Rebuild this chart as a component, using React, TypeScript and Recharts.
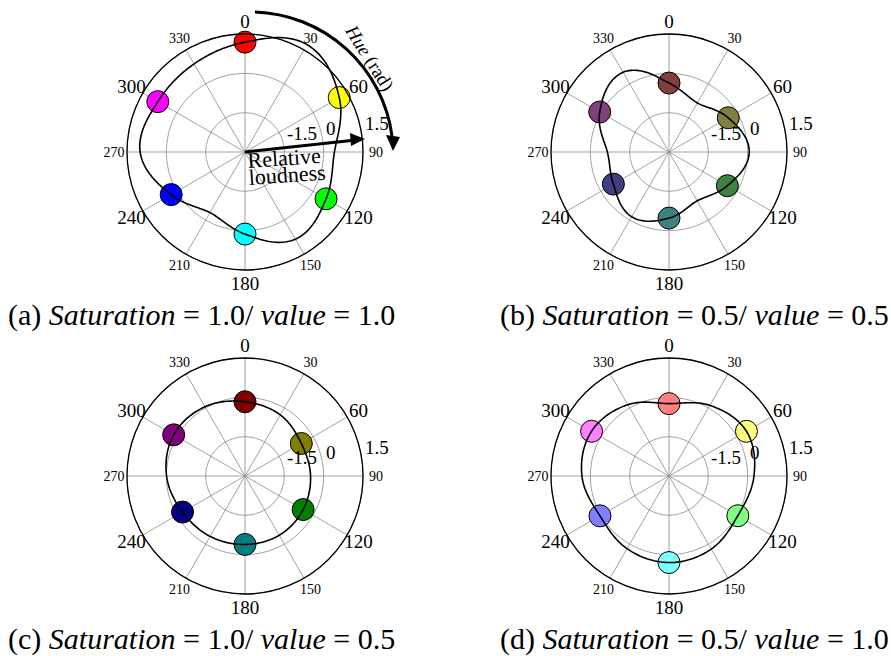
import React from 'react'
import { RadarChart, Radar, PolarGrid, PolarAngleAxis, PolarRadiusAxis } from 'recharts'

const hues = [0, 30, 60, 90, 120, 150, 180, 210, 240, 270, 300, 330]
const markerHues = [0, 60, 120, 180, 240, 300]
const radiusTicks = [-1.5, 0, 1.5]

// relative loudness read every 30 deg, markers at the six primary hues
const curveA = [1.19, 1.73, 1.15, 0.41, 0.57, 0.84, 0.13, -0.33, 0.25, 1.0, 0.84, 0.88]
const markerA = [1.19, 1.15, 0.57, 0.13, 0.25, 0.84]
const colorsA = ['#ff0000', '#ffff00', '#00ff00', '#00ffff', '#0000ff', '#ff00ff']

const curveB = [-0.37, -0.84, -0.39, 0.06, -0.43, -0.85, -0.48, -0.15, -0.55, -0.65, 0.05, 0.51]
const markerB = [-0.37, -0.39, -0.43, -0.48, -0.55, 0.05]
const colorsB = ['#804040', '#808040', '#408040', '#408080', '#404080', '#804080']

const curveC = [-0.17, -0.31, -0.52, -0.5, -0.44, -0.39, -0.39, -0.34, -0.25, -0.01, 0.14, 0.05]
const markerC = [-0.17, -0.52, -0.44, -0.39, -0.25, 0.14]
const colorsC = ['#800000', '#808000', '#008000', '#008080', '#000080', '#800080']

const curveD = [-0.24, 0.11, 0.41, 0.24, 0.03, 0.22, 0.3, 0.2, 0.04, 0.32, 0.41, 0.14]
const markerD = [-0.24, 0.41, 0.03, 0.3, 0.04, 0.41]
const colorsD = ['#ff8080', '#ffff80', '#80ff80', '#80ffff', '#8080ff', '#ff80ff']

const captionTags = ['(a)', '(b)', '(c)', '(d)']
const saturations = ['1.0', '0.5', '1.0', '0.5']
const values = ['1.0', '0.5', '0.5', '1.0']

const FONT = '"Liberation Serif", "Times New Roman", serif'
const CX = 150
const CY = 150
const R = 118

function AngleTick(props: any) {
    const { x, y, payload } = props
    const dx = x - CX
    const dy = y - CY
    const d = Math.hypot(dx, dy) || 1
    const big = payload.value % 60 === 0
    return (
        <text
            x={CX + (dx / d) * 131}
            y={CY + (dy / d) * 131}
            textAnchor="middle"
            dominantBaseline="central"
            fontSize={big ? 19 : 14}
            fontFamily={FONT}
            fill="#000"
        >
            {payload.value}
        </text>
    )
}

function RadiusTick(props: any) {
    const { x, y, payload } = props
    return (
        <text x={x + 3} y={y - 14} dominantBaseline="central" fontSize={19} fontFamily={FONT} fill="#000">
            {payload.value}
        </text>
    )
}

const catmull = (p0: number, p1: number, p2: number, p3: number, t: number) =>
    0.5 * (2 * p1 + (p2 - p0) * t + (2 * p0 - 5 * p1 + 4 * p2 - p3) * t * t + (3 * p1 - p0 - 3 * p2 + p3) * t * t * t)

// closed smooth curve, interpolated in polar space through the radar points
function SmoothLoop(props: any) {
    const pts = props.points || []
    const n = pts.length
    if (n < 3) return <g />
    const step = pts[1].angle - pts[0].angle
    const cx = pts[0].cx ?? CX
    const cy = pts[0].cy ?? CY
    let d = ''
    for (let i = 0; i < n; i++) {
        const r0 = pts[(i - 1 + n) % n].radius
        const r1 = pts[i].radius
        const r2 = pts[(i + 1) % n].radius
        const r3 = pts[(i + 2) % n].radius
        for (let k = 0; k < 24; k++) {
            const t = k / 24
            const r = catmull(r0, r1, r2, r3, t)
            const a = ((pts[i].angle + step * t) * Math.PI) / 180
            const px = cx + r * Math.cos(-a)
            const py = cy + r * Math.sin(-a)
            d += (d ? 'L' : 'M') + px.toFixed(2) + ',' + py.toFixed(2)
        }
    }
    return <path d={d + 'Z'} fill="none" stroke="#000" strokeWidth={1.6} />
}

const makeMarkers = (colors: string[]) => (props: any) => (
    <g>
        {(props.points || []).map((p: any, i: number) => {
            const m = markerHues.indexOf(p.payload?.hue)
            if (m < 0 || p.payload.marker == null) return null
            return <circle key={i} cx={p.x} cy={p.y} r={11} fill={colors[m]} stroke="#000" strokeWidth={1} />
        })}
    </g>
)

interface HuePlotProps {
    curve: number[]
    markers: number[]
    colors: string[]
    left: number
    top: number
}

function HuePlot({ curve, markers, colors, left, top }: HuePlotProps) {
    const data = hues.map((h, i) => {
        const m = markerHues.indexOf(h)
        return { hue: h, curve: curve[i], marker: m >= 0 ? markers[m] : null }
    })
    return (
        <div style={{ position: 'absolute', left, top }}>
            <RadarChart
                width={300}
                height={300}
                cx={CX}
                cy={CY}
                outerRadius={R}
                startAngle={90}
                endAngle={-270}
                data={data}
                margin={{ top: 0, right: 0, bottom: 0, left: 0 }}
            >
                <PolarGrid gridType="circle" stroke="#8c8c8c" strokeWidth={0.8} />
                <PolarAngleAxis
                    dataKey="hue"
                    axisLineType="circle"
                    axisLine={{ stroke: '#000', strokeWidth: 1.3 }}
                    tickLine={false}
                    tickSize={12}
                    tick={<AngleTick />}
                />
                {/* tickCount 0 keeps the domain from being rounded out to 2 */}
                <PolarRadiusAxis
                    type="number"
                    angle={7}
                    domain={[-3, 1.5]}
                    tickCount={0}
                    ticks={radiusTicks}
                    allowDataOverflow
                    axisLine={false}
                    tickLine={false}
                    tick={<RadiusTick />}
                />
                <Radar dataKey="marker" shape={makeMarkers(colors)} isAnimationActive={false} />
                <Radar dataKey="curve" shape={SmoothLoop} isAnimationActive={false} />
            </RadarChart>
        </div>
    )
}

export default function App() {
    const captionPos = [
        { x: 8, y: 325 },
        { x: 500, y: 325 },
        { x: 8, y: 649 },
        { x: 500, y: 649 },
    ]
    return (
        <div style={{ position: 'absolute', left: 0, top: 0, width: 891, height: 656, background: '#fff' }}>
            <HuePlot curve={curveA} markers={markerA} colors={colorsA} left={95} top={2} />
            <HuePlot curve={curveB} markers={markerB} colors={colorsB} left={519} top={2} />
            <HuePlot curve={curveC} markers={markerC} colors={colorsC} left={95} top={326} />
            <HuePlot curve={curveD} markers={markerD} colors={colorsD} left={519} top={326} />
            <svg
                width={891}
                height={656}
                style={{ position: 'absolute', left: 0, top: 0, pointerEvents: 'none' }}
                fontFamily={FONT}
            >
                {/* hue direction arrow */}
                <path d="M255,12 A143,143 0 0 1 392,136" stroke="#000" strokeWidth={3} fill="none" />
                <polygon points="393,151 386,135 400,137" fill="#000" />
                <text
                    transform="translate(370,58) rotate(58)"
                    textAnchor="middle"
                    dominantBaseline="central"
                    fontSize={19}
                >
                    <tspan fontStyle="italic">Hue</tspan>
                    {' (rad)'}
                </text>
                {/* loudness arrow */}
                <line x1={245} y1={152} x2={356} y2={140} stroke="#000" strokeWidth={3} />
                <polygon points="365,139 350,133 351,146" fill="#000" />
                <g transform="rotate(-4, 248, 168)" fontSize={22}>
                    <text x={248} y={168}>Relative</text>
                    <text x={248} y={185}>loudness</text>
                </g>
                {captionPos.map((p, i) => (
                    <text key={i} x={p.x} y={p.y} fontSize={30} fill="#000">
                        {captionTags[i] + ' '}
                        <tspan fontStyle="italic">Saturation</tspan>
                        {' = ' + saturations[i] + '/ '}
                        <tspan fontStyle="italic">value</tspan>
                        {' = ' + values[i]}
                    </text>
                ))}
            </svg>
        </div>
    )
}
